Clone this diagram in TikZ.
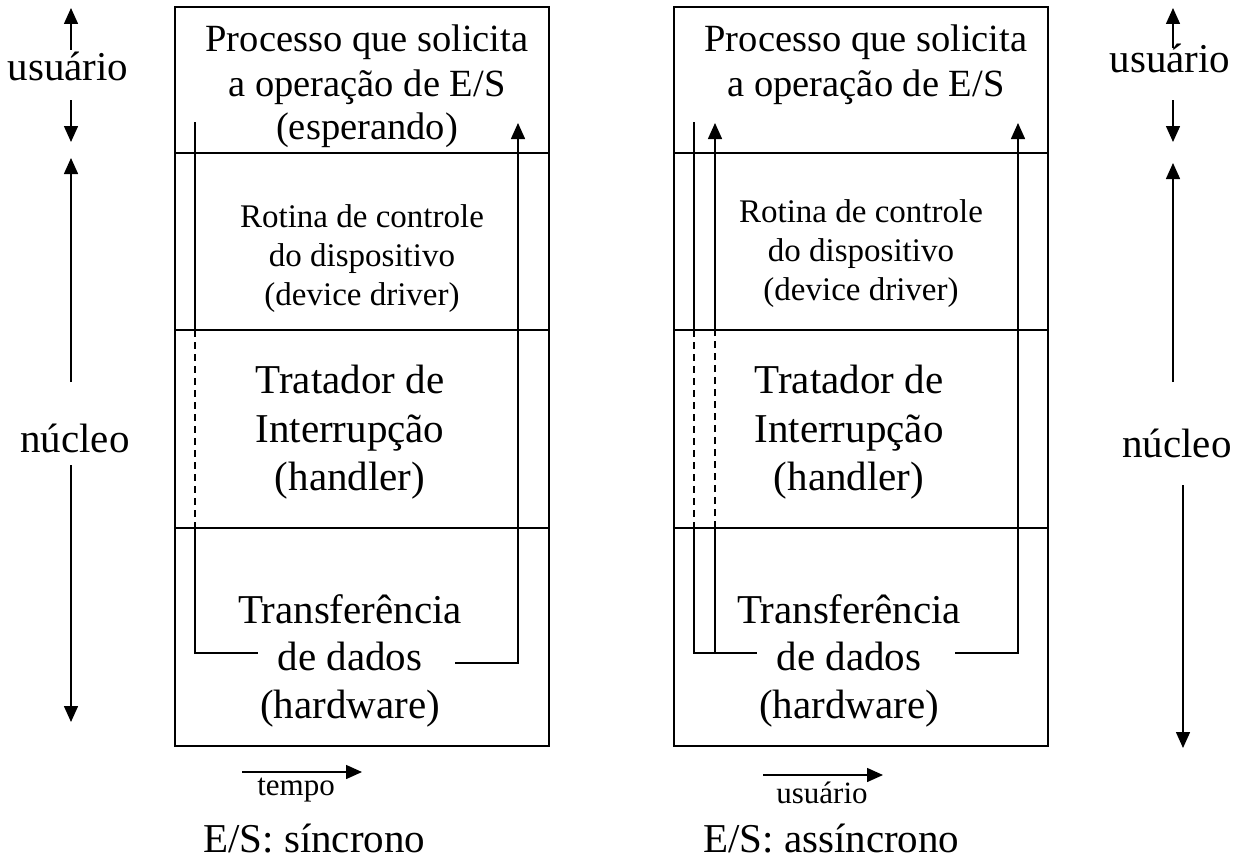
\documentclass[tikz,border=0pt]{standalone}
\usepackage{fontspec}
\setmainfont{Liberation Serif}
\usetikzlibrary{arrows.meta}
\tikzset{
  frame/.style={line width=1.5pt},
  flow/.style={line width=1.5pt},
  arr/.style={line width=1.5pt, -{Triangle[length=16pt,width=14pt]}},
  dsh/.style={line width=1.5pt, dash pattern=on 7pt off 5pt},
  lblBig/.style={font=\fontsize{41}{48}\selectfont, inner sep=0pt, anchor=base},
  lblMid/.style={font=\fontsize{38.5}{44}\selectfont, inner sep=0pt, anchor=base},
  lblSmall/.style={font=\fontsize{33}{39}\selectfont, inner sep=0pt, anchor=base},
  lblTiny/.style={font=\fontsize{31}{36}\selectfont, inner sep=0pt, anchor=base},
}
\begin{document}
\begin{tikzpicture}[x=1pt,y=-1pt]
\useasboundingbox (0,0) rectangle (1247,859);

% ---------- left box ----------
\draw[frame] (175,7) rectangle (549,746);
\draw[frame] (175,153) -- (549,153);
\draw[frame] (175,330) -- (549,330);
\draw[frame] (175,528) -- (549,528);

\node[lblMid] (pL1) at (367,52) {Processo que solicita};
\node[lblMid] (pL2) at (367,96) {a operação de E/S};
\node[lblMid] (pL3) at (367,139) {(esperando)};
\node[lblSmall] (dL1) at (362,227) {Rotina de controle};
\node[lblSmall] (dL2) at (362,266) {do dispositivo};
\node[lblSmall] (dL3) at (362,305) {(device driver)};
\node[lblBig] (tL1) at (350,393) {Tratador de};
\node[lblBig] (tL2) at (350,442) {Interrupção};
\node[lblBig] (tL3) at (350,490) {(handler)};
\node[lblBig] (hL1) at (350,623) {Transferência};
\node[lblBig] (hL2) at (350,670) {de dados};
\node[lblBig] (hL3) at (350,718) {(hardware)};

\coordinate (la1) at (195,122);
\coordinate (la2) at (195,330);
\coordinate (la3) at (195,528);
\coordinate (la4) at (195,653);
\coordinate (la5) at (258,653);
\draw[flow] (la1) -- (la2);
\draw[dsh] (la2) -- (la3);
\draw[flow] (la3) -- (la4) -- (la5);
\coordinate (lb1) at (455,663);
\coordinate (lb2) at (518,663);
\coordinate (lb3) at (518,123);
\draw[arr] (lb1) -- (lb2) -- (lb3);

% ---------- right box ----------
\draw[frame] (674,7) rectangle (1048,746);
\draw[frame] (674,153) -- (1048,153);
\draw[frame] (674,330) -- (1048,330);
\draw[frame] (674,528) -- (1048,528);

\node[lblMid] (pR1) at (866,52) {Processo que solicita};
\node[lblMid] (pR2) at (866,96) {a operação de E/S};
\node[lblSmall] (dR1) at (861,222) {Rotina de controle};
\node[lblSmall] (dR2) at (861,261) {do dispositivo};
\node[lblSmall] (dR3) at (861,300) {(device driver)};
\node[lblBig] (tR1) at (849,393) {Tratador de};
\node[lblBig] (tR2) at (849,442) {Interrupção};
\node[lblBig] (tR3) at (849,490) {(handler)};
\node[lblBig] (hR1) at (849,623) {Transferência};
\node[lblBig] (hR2) at (849,670) {de dados};
\node[lblBig] (hR3) at (849,718) {(hardware)};

\coordinate (ra1) at (694,122);
\coordinate (ra2) at (694,330);
\coordinate (ra3) at (694,528);
\coordinate (ra4) at (694,653);
\coordinate (ra5) at (757,653);
\draw[flow] (ra1) -- (ra2);
\draw[dsh] (ra2) -- (ra3);
\draw[flow] (ra3) -- (ra4) -- (ra5);
\coordinate (rc1) at (715,653);
\coordinate (rc2) at (715,528);
\coordinate (rc3) at (715,330);
\coordinate (rc4) at (715,123);
\draw[flow] (rc1) -- (rc2);
\draw[dsh] (rc2) -- (rc3);
\draw[arr] (rc3) -- (rc4);
\coordinate (rb1) at (955,653);
\coordinate (rb2) at (1018,653);
\coordinate (rb3) at (1018,123);
\draw[arr] (rb1) -- (rb2) -- (rb3);

% ---------- side labels left ----------
\node[lblBig] (uL) at (68,81) {usuário};
\node[lblBig] (nL) at (75,452) {núcleo};
\coordinate (sl1) at (71,50);   \coordinate (sl2) at (71,8);
\coordinate (sl3) at (71,100);  \coordinate (sl4) at (71,142);
\coordinate (sl5) at (71,382);  \coordinate (sl6) at (71,158);
\coordinate (sl7) at (71,465);  \coordinate (sl8) at (71,722);
\draw[arr] (sl1) -- (sl2);
\draw[arr] (sl3) -- (sl4);
\draw[arr] (sl5) -- (sl6);
\draw[arr] (sl7) -- (sl8);

% ---------- side labels right ----------
\node[lblBig] (uR) at (1170,72) {usuário};
\node[lblBig] (nR) at (1177,457) {núcleo};
\coordinate (sr1) at (1173,48);  \coordinate (sr2) at (1173,8);
\coordinate (sr3) at (1173,100); \coordinate (sr4) at (1173,142);
\coordinate (sr5) at (1173,382); \coordinate (sr6) at (1173,163);
\coordinate (sr7) at (1183,485); \coordinate (sr8) at (1183,748);
\draw[arr] (sr1) -- (sr2);
\draw[arr] (sr3) -- (sr4);
\draw[arr] (sr5) -- (sr6);
\draw[arr] (sr7) -- (sr8);

% ---------- bottom ----------
\coordinate (bl1) at (242,772); \coordinate (bl2) at (362,772);
\draw[arr] (bl1) -- (bl2);
\node[lblTiny] (tempo) at (296,795) {tempo};
\coordinate (br1) at (763,775); \coordinate (br2) at (883,775);
\draw[arr] (br1) -- (br2);
\node[lblTiny] (usuB) at (822,803) {usuário};
\node[lblBig, anchor=base west] (esL) at (203,852) {E/S: síncrono};
\node[lblBig, anchor=base west] (esR) at (703,852) {E/S: assíncrono};
\end{tikzpicture}
\end{document}
